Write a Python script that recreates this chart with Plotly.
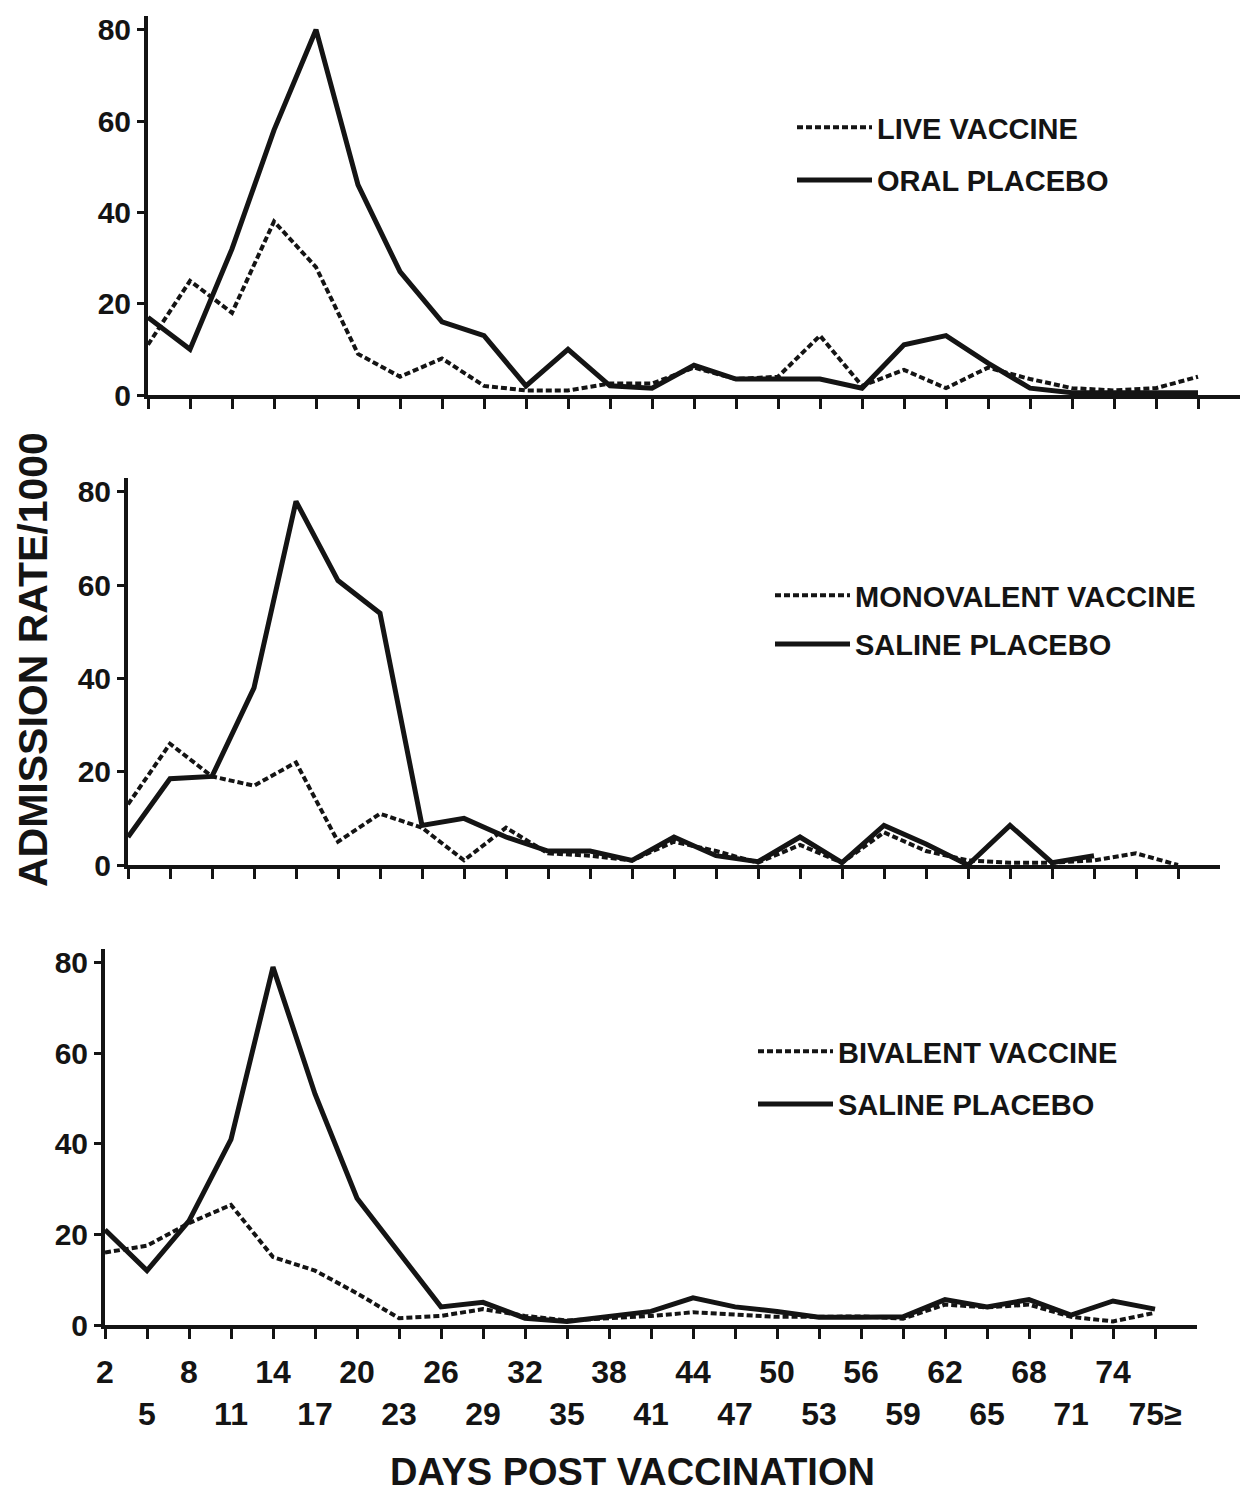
import plotly.graph_objects as go

# ---- data ----
day_labels = ["2", "5", "8", "11", "14", "17", "20", "23", "26", "29", "32", "35", "38",
              "41", "44", "47", "50", "53", "56", "59", "62", "65", "68", "71", "74", "75≥"]

live_vaccine = [11, 25, 18, 38, 28, 9, 4, 8, 2, 1, 1, 2.5, 2.5, 6, 3.5, 4, 13, 2, 5.5, 1.5,
                6, 3.5, 1.5, 1, 1.5, 4]
oral_placebo = [17, 10, 32, 58, 80, 46, 27, 16, 13, 2, 10, 2, 1.5, 6.5, 3.5, 3.5, 3.5, 1.5,
                11, 13, 7, 1.5, 0.5, 0.5, 0.5, 0.5]

monovalent_vaccine = [13, 26, 19, 17, 22, 5, 11, 8, 1, 8, 2.5, 2, 1, 5, 3, 0.5, 4.3, 0.5,
                      7, 3, 1, 0.5, 0.5, 1, 2.5, 0]
saline_placebo_mono = [6, 18.5, 19, 38, 78, 61, 54, 8.5, 10, 6, 3, 3, 1, 6, 2, 0.7, 6, 0.5,
                       8.5, 4.5, 0, 8.5, 0.5, 2, None, None]

bivalent_vaccine = [16, 17.5, 22.5, 26.5, 15, 12, 7, 1.5, 2, 3.5, 2, 1, 1.5, 2, 2.8, 2.4,
                    1.8, 1.8, 1.9, 1.4, 4.5, 3.9, 4.5, 1.8, 0.8, 2.7]
saline_placebo_bi = [21, 12, 23, 41, 79, 51, 28, 16, 4, 5, 1.5, 0.8, 2, 3, 6, 4, 3, 1.7,
                     1.7, 1.8, 5.6, 4, 5.6, 2.2, 5.3, 3.5]

panel_names = [("LIVE VACCINE", "ORAL PLACEBO"),
               ("MONOVALENT VACCINE", "SALINE PLACEBO"),
               ("BIVALENT VACCINE", "SALINE PLACEBO")]
y_ticks = [0, 20, 40, 60, 80]

x_idx = list(range(len(day_labels)))
ink = "#141414"
FONT = "Liberation Sans"

fig = go.Figure()
series = [(live_vaccine, oral_placebo), (monovalent_vaccine, saline_placebo_mono),
          (bivalent_vaccine, saline_placebo_bi)]
for p, (dashed, solid) in enumerate(series):
    sfx = "" if p == 0 else str(p + 1)
    leg = "legend" + sfx
    fig.add_trace(go.Scatter(x=x_idx, y=dashed, mode="lines", name=panel_names[p][0],
                             line=dict(color=ink, width=4, dash="6px,3px"),
                             xaxis="x" + sfx, yaxis="y" + sfx, legend=leg,
                             legendgroup=f"d{p}", connectgaps=False))
    fig.add_trace(go.Scatter(x=x_idx, y=solid, mode="lines", name=panel_names[p][1],
                             line=dict(color=ink, width=5),
                             xaxis="x" + sfx, yaxis="y" + sfx, legend=leg,
                             legendgroup=f"s{p}", connectgaps=False))

H = 1500.0
W = 1250.0
# pixel geometry of each panel in figure coords: (x_left, x_right, y_zero, y_top)
geom = [(140, 1232, 387, 8), (120, 1212, 857, 470), (97, 1189, 1317, 941)]

ticktext_bottom = [lab if i % 2 == 0 else "<br>" + lab for i, lab in enumerate(day_labels)]

layout = dict(
    width=1250, height=1500,
    paper_bgcolor="white", plot_bgcolor="white",
    margin=dict(l=0, r=0, t=0, b=0, autoexpand=False),
    font=dict(family=FONT, color=ink, size=28, weight="bold"),
)
for p, (xl, xr, y0, yt) in enumerate(geom):
    sfx = "" if p == 0 else str(p + 1)
    xa = dict(domain=[xl / W, xr / W], range=[0, 26], anchor="y" + sfx,
              showline=True, linewidth=4, linecolor=ink, showgrid=False, zeroline=False,
              ticks="outside", ticklen=10, tickwidth=3, tickcolor=ink,
              tickvals=x_idx, ticktext=ticktext_bottom if p == 2 else day_labels,
              showticklabels=(p == 2), tickangle=0, automargin=False,
              ticklabelstandoff=6,
              tickfont=dict(family=FONT, size=32, color=ink, weight="bold"))
    ya = dict(domain=[1 - y0 / H, 1 - yt / H], range=[0, 83], anchor="x" + sfx,
              showline=True, linewidth=4, linecolor=ink, showgrid=False, zeroline=False,
              ticks="outside", ticklen=7, tickwidth=3, tickcolor=ink, automargin=False,
              tickvals=y_ticks, ticktext=[str(v) for v in y_ticks],
              tickfont=dict(family=FONT, size=30, color=ink, weight="bold"))
    layout["xaxis" + sfx] = xa
    layout["yaxis" + sfx] = ya

# legends (one per panel): (x px, y px, gap)
leg_pos = [(784, 94, 12), (762, 562, 8), (745, 1018, 12)]
for p, (lx, ly, gap) in enumerate(leg_pos):
    key = "legend" if p == 0 else "legend" + str(p + 1)
    layout[key] = dict(x=lx / W, y=1 - ly / H, xanchor="left", yanchor="top",
                       bgcolor="rgba(0,0,0,0)", borderwidth=0, itemwidth=75,
                       tracegroupgap=gap, traceorder="grouped",
                       font=dict(family=FONT, size=29, color=ink, weight="bold"))

fig.update_layout(**layout)

fig.add_annotation(text="ADMISSION RATE/1000", xref="paper", yref="paper",
                   x=25 / W, y=1 - 652 / H, xanchor="center", yanchor="middle",
                   textangle=-90, showarrow=False,
                   font=dict(family=FONT, size=41, color=ink, weight="bold"))
fig.add_annotation(text="DAYS POST VACCINATION", xref="paper", yref="paper",
                   x=624 / W, y=1 - 1464 / H, xanchor="center", yanchor="middle",
                   showarrow=False,
                   font=dict(family=FONT, size=38, color=ink, weight="bold"))

fig.write_html("out.html")
